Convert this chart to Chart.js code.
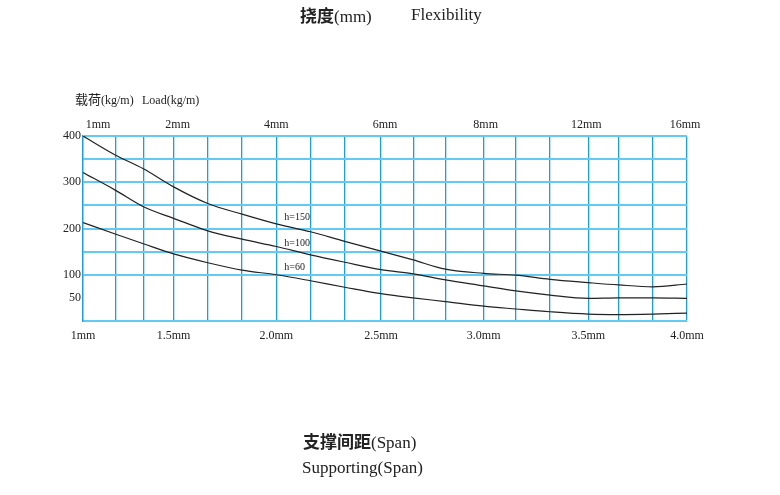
<!DOCTYPE html>
<html>
<head>
<meta charset="utf-8">
<script src="https://cdn.jsdelivr.net/npm/chart.js@4"></script>
<style>
body { margin: 0; background: #fff; }
#wrap { position: relative; width: 780px; height: 495px; }
.t { position: absolute; white-space: nowrap; font-family: "Liberation Serif", "Noto Sans CJK SC", serif; color: #222; line-height: 20px; }
.cn { font-family: "Noto Sans CJK SC", sans-serif; font-weight: bold; }
</style>
</head>
<body>
<div id="wrap">
  <canvas id="flexChart"></canvas>
  <div class="t" style="left:300px;top:5px;font-size:17px;"><span class="cn">挠度</span>(mm)</div>
  <div class="t" style="left:411px;top:5px;font-size:17px;">Flexibility</div>
  <div class="t" style="left:75px;top:90px;font-size:12px;"><span style="font-size:13px">载荷</span>(kg/m)</div>
  <div class="t" style="left:142px;top:90px;font-size:12px;">Load(kg/m)</div>
  <div class="t" style="left:303px;top:431px;font-size:17px;"><span class="cn">支撑间距</span>(Span)</div>
  <div class="t" style="left:302px;top:458px;font-size:17px;">Supporting(Span)</div>
</div>
<script>
// grid columns (span in mm), as drawn in the picture
var gridX = [1.00, 1.16, 1.30, 1.45, 1.62, 1.79, 1.96, 2.13, 2.30, 2.48, 2.64, 2.80, 2.99, 3.15, 3.32, 3.51, 3.66, 3.83, 4.00];
var bottomLabels = ['1mm', '1.5mm', '2.0mm', '2.5mm', '3.0mm', '3.5mm', '4.0mm'];
var topTickX = [1.075, 1.47, 1.96, 2.5, 3.0, 3.5, 3.99];
var topLabels = ['1mm', '2mm', '4mm', '6mm', '8mm', '12mm', '16mm'];
var yLabelValues = [50, 100, 200, 300, 400];

// load (kg/m) at each grid column
var h150 = [400, 359, 329, 290, 254, 231, 210, 193, 172, 151, 132, 112, 103, 99, 90, 83, 78, 74, 80];
var h100 = [321, 283, 247, 222, 195, 177, 161, 143, 127, 111, 102, 89, 76, 65, 56, 49, 50, 50, 49];
var h60  = [213, 188, 167, 145, 126, 110, 100, 87, 73, 59, 50, 42, 32, 26, 20, 15, 14, 15, 17];

var curveLabels = [
    { text: 'h=150', x: 2.0, y: 223 },
    { text: 'h=100', x: 2.0, y: 168 },
    { text: 'h=60',  x: 2.0, y: 116 }
];

var vBlue = '#1c9edd';   // vertical grid lines
var hBlue = '#62caf3';   // horizontal grid lines
var serif = '"Liberation Serif", "Noto Sans CJK SC", serif';

function toPoints(vals) {
    return gridX.map(function(x, i) { return { x: x, y: vals[i] }; });
}

function curve(vals) {
    return {
        data: toPoints(vals),
        borderColor: '#222',
        borderWidth: 1.2,
        pointRadius: 0,
        fill: false,
        cubicInterpolationMode: 'monotone'
    };
}

var labelPlugin = {
    id: 'curveLabels',
    afterDatasetsDraw: function(chart) {
        var c = chart.ctx;
        c.save();
        c.font = '10px ' + serif;
        c.fillStyle = '#222';
        c.textAlign = 'left';
        c.textBaseline = 'middle';
        curveLabels.forEach(function(l) {
            c.fillText(l.text, chart.scales.x.getPixelForValue(l.x), chart.scales.y.getPixelForValue(l.y));
        });
        c.restore();
    }
};

var ctx = document.getElementById('flexChart').getContext('2d');
var flexChart = new Chart(ctx, {
    type: 'line',
    data: {
        datasets: [curve(h150), curve(h100), curve(h60)]
    },
    options: {
        responsive: true,
        maintainAspectRatio: false,
        animation: false,
        layout: { padding: { left: 0, right: 93, top: 0, bottom: 0 } },
        plugins: {
            legend: { display: false },
            tooltip: { enabled: false }
        },
        scales: {
            x: {
                type: 'linear',
                position: 'bottom',
                min: 1,
                max: 4,
                afterBuildTicks: function(s) {
                    s.ticks = gridX.map(function(v) { return { value: v }; });
                },
                afterFit: function(s) { s.height = 174; },
                grid: { color: vBlue, lineWidth: 1.3, drawTicks: false },
                border: { color: hBlue, width: 2 },
                ticks: {
                    autoSkip: false,
                    maxRotation: 0,
                    padding: 8,
                    color: '#222',
                    font: { family: serif, size: 12 },
                    callback: function(value, index) {
                        return index % 3 === 0 ? bottomLabels[index / 3] : '';
                    }
                }
            },
            x2: {
                type: 'linear',
                position: 'top',
                min: 1,
                max: 4,
                afterBuildTicks: function(s) {
                    s.ticks = topTickX.map(function(v) { return { value: v }; });
                },
                afterFit: function(s) { s.height = 136; },
                grid: { display: false, drawTicks: false },
                border: { display: false },
                ticks: {
                    autoSkip: false,
                    maxRotation: 0,
                    padding: 4,
                    color: '#222',
                    font: { family: serif, size: 12 },
                    callback: function(value, index) { return topLabels[index]; }
                }
            },
            y: {
                min: 0,
                max: 400,
                afterFit: function(s) { s.width = 83; },
                grid: {
                    drawTicks: false,
                    lineWidth: 2,
                    color: function(c) {
                        return c.tick && c.tick.value === 50 ? 'rgba(0,0,0,0)' : hBlue;
                    }
                },
                border: { color: vBlue, width: 1.3 },
                ticks: {
                    stepSize: 50,
                    padding: 2,
                    color: '#222',
                    font: { family: serif, size: 12 },
                    callback: function(value) {
                        return yLabelValues.indexOf(value) >= 0 ? String(value) : '';
                    }
                }
            }
        }
    },
    plugins: [labelPlugin]
});
</script>
</body>
</html>
